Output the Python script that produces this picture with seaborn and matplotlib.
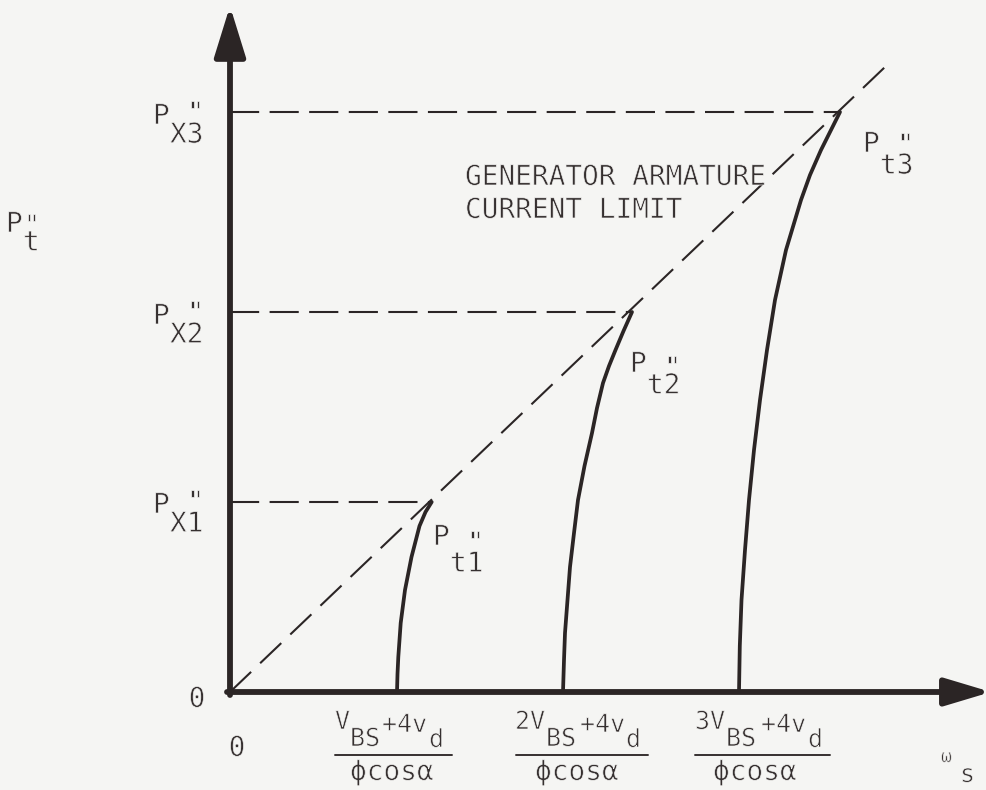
import numpy as np
import pandas as pd
import matplotlib
matplotlib.use("Agg")
import matplotlib.pyplot as plt
import matplotlib.transforms as mtransforms
import matplotlib.patheffects as pe
import seaborn as sns

# ---- data (axis units: shaft speed on x, tractive power on y) ----
curve_names = ["t1", "t2", "t3"]
curve_speed = [
    [1.67, 1.675, 1.683, 1.707, 1.75, 1.815, 1.895, 1.955, 2.017],
    [3.33, 3.34, 3.35, 3.375, 3.40, 3.44, 3.48, 3.545, 3.62, 3.67, 3.73,
     3.79, 3.855, 3.935, 4.02],
    [5.09, 5.098, 5.115, 5.15, 5.19, 5.24, 5.30, 5.37, 5.45, 5.56, 5.71,
     5.80, 5.91, 6.01, 6.10],
]
curve_power = [
    [0.00, 0.18, 0.35, 0.69, 1.02, 1.35, 1.66, 1.80, 1.90],
    [0.00, 0.32, 0.59, 0.92, 1.25, 1.59, 1.92, 2.26, 2.59, 2.84, 3.09,
     3.26, 3.42, 3.61, 3.80],
    [0.00, 0.46, 0.92, 1.42, 1.92, 2.42, 2.92, 3.42, 3.92, 4.42, 4.92,
     5.17, 5.42, 5.62, 5.80],
]
limit_speed = [2.02, 4.02, 6.10]      # where each curve meets the current limit
limit_power = [1.90, 3.80, 5.80]      # P''_X1, P''_X2, P''_X3
limit_line_x = [0.0, 6.55]
limit_line_y = [0.0, 6.25]

W, H = 986, 790
INK = "#2b2525"
TXT = "#363030"
BG = "#f5f5f3"
MONO = "DejaVu Sans Mono"

sns.set_theme(style="white")
plt.rcParams["font.family"] = [MONO, "DejaVu Sans"]

fig = plt.figure(figsize=(W / 100, H / 100), dpi=100, facecolor=BG)
ax = fig.add_axes([230 / W, 98 / H, 755 / W, 680 / H])
ax.set_facecolor(BG)
ax.set_xlim(0, 7.55)
ax.set_ylim(0, 6.80)
ax.axis("off")

# pixel placement for lettering (top-left origin)
PIX = mtransforms.Affine2D().scale(1, -1).translate(0, H)
THIN = [pe.Stroke(linewidth=0.5, foreground=BG)]


def txt(x, y, s, size=20, ha="left", va="baseline", ls=1.2):
    fig.text(x, y, s, transform=PIX, fontsize=size, family=MONO,
             color=TXT, ha=ha, va=va, linespacing=ls, path_effects=THIN)


def stacked(x, quote_base, sub_base, s, size=20):
    """Subscript with a double prime set above it, as one text block."""
    em = size * 100 / 72
    asc, desc = 0.76 * em, 0.208 * em
    ls = (sub_base - quote_base - desc) / asc
    txt(x, quote_base - asc, s, size=size, va="top", ls=ls)


# ---- tractive power curves ----
rows = []
for name, xs, ys in zip(curve_names, curve_speed, curve_power):
    for xv, yv in zip(xs, ys):
        rows.append({"curve": name, "speed": xv, "power": yv})
df = pd.DataFrame(rows)
sns.lineplot(data=df, x="speed", y="power", hue="curve", sort=False,
             estimator=None, palette=[INK] * 3, lw=2.7, legend=False,
             ax=ax, clip_on=False, solid_capstyle="round",
             solid_joinstyle="round")

# ---- generator armature current limit (dashed diagonal) ----
ax.plot(limit_line_x, limit_line_y, color=INK, lw=1.5,
        linestyle=(0, (14, 6)), clip_on=False)

# ---- horizontal projections to the power axis ----
for xs, ys in zip(limit_speed, limit_power):
    ax.plot([0, xs], [ys, ys], color=INK, lw=1.5,
            linestyle=(0, (14, 5)), clip_on=False)

# ---- axes with arrowheads ----
ax.annotate("", xy=(0, 6.86), xytext=(0, -0.03), annotation_clip=False,
            arrowprops=dict(arrowstyle="-|>,head_length=1.55,head_width=0.48",
                            lw=4.2, color=INK, shrinkA=0, shrinkB=0,
                            mutation_scale=20))
ax.annotate("", xy=(7.61, 0), xytext=(-0.03, 0), annotation_clip=False,
            arrowprops=dict(arrowstyle="-|>,head_length=1.4,head_width=0.42",
                            lw=4.2, color=INK, shrinkA=0, shrinkB=0,
                            mutation_scale=20))

# ---- power level labels P''_X ----
for sub, yline in zip(["X1", "X2", "X3"], [501, 312, 112]):
    txt(153, yline + 12, "P")
    stacked(170, yline + 8, yline + 29, ' "\n' + sub)

# ---- limit point labels P''_t ----
for (px, pb, sx, qb, sb, sub) in [
        (433, 545, 450, 550, 570, "t1"),
        (630, 372, 647, 375, 392, "t2"),
        (863, 152, 880, 152, 172, "t3")]:
    txt(px, pb, "P")
    stacked(sx, qb, sb, ' "\n' + sub)

# ---- vertical axis title ----
txt(6, 232, "P")
stacked(23, 233, 249, '"\nt')

# ---- annotation ----
txt(465, 185, "GENERATOR ARMATURE")
txt(465, 218, "CURRENT LIMIT")

# ---- origin marks ----
txt(197, 707, "0", ha="center")
txt(237, 756, "0", ha="center")

# ---- speed tick fractions ----
fractions = [
    (335, 117, [("V", 335, 729), ("BS", 350, 746), ("+4v", 382, 732), ("d", 429, 747)], 352),
    (516, 132, [("2V", 515, 729), ("BS", 546, 746), ("+4v", 580, 732), ("d", 626, 747)], 537),
    (695, 135, [("3V", 695, 729), ("BS", 726, 746), ("+4v", 761, 732), ("d", 808, 747)], 715),
]
for left, length, pieces, dleft in fractions:
    for s, x, y in pieces:
        txt(x, y, s, size=18)
    fig.add_artist(plt.Line2D([left, left + length], [755, 755],
                              transform=PIX, color=TXT, lw=1.4))
    txt(dleft - 2, 780, "ϕcosα")

# ---- speed axis title ----
txt(941, 762, "ω", size=13)
txt(960, 782, "s", size=18)

fig.savefig("out.png", dpi=100, facecolor=BG)
